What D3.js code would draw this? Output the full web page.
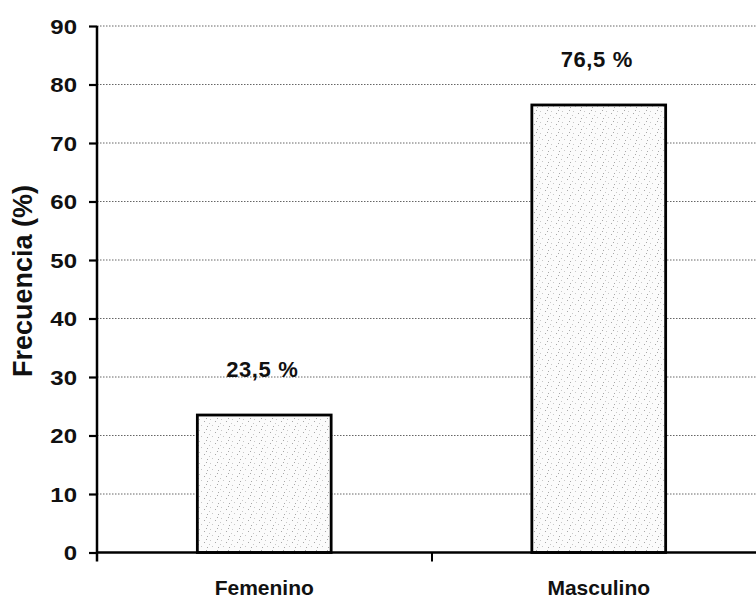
<!DOCTYPE html>
<html>
<head>
<meta charset="utf-8">
<script src="https://cdn.jsdelivr.net/npm/d3@7"></script>
<style>
  html, body { margin: 0; padding: 0; background: #fff; }
  svg { display: block; }
  text { font-family: "Liberation Sans", Arial, sans-serif; font-weight: bold; fill: #111; }
</style>
</head>
<body>
<svg id="chart" width="756" height="599"></svg>
<script>
const categories = ["Femenino", "Masculino"];
const values = [23.5, 76.5];
const valueLabels = ["23,5 %", "76,5 %"];
const yTicks = [0, 10, 20, 30, 40, 50, 60, 70, 80, 90];
const yTitle = "Frecuencia (%)";

const svg = d3.select("#chart");
const mLeft = 97, mRight = 766, mTop = 26, mBottom = 552.5;

const y = d3.scaleLinear().domain([0, 90]).range([mBottom, mTop]);
const x = d3.scaleBand().domain(categories).range([mLeft, mRight]).paddingInner(0.6).paddingOuter(0.3);
const xEdges = d3.scaleLinear().domain([0, categories.length]).range([mLeft, mRight]);

// stipple pattern
const defs = svg.append("defs");
const pat = defs.append("pattern").attr("id", "stip").attr("patternUnits", "userSpaceOnUse")
  .attr("width", 11).attr("height", 11);
pat.append("rect").attr("width", 11).attr("height", 11).attr("fill", "#fbfbfb");
[[1,1],[6,3],[3,7],[9,8],[0,5],[8,0]].forEach(([a,b], i) => {
  pat.append("rect").attr("x", a).attr("y", b).attr("width", 1).attr("height", 1)
    .attr("fill", i % 2 ? "#a8a8a8" : "#c8c8c8");
});

// gridlines
svg.append("g").selectAll("line").data(yTicks.filter(d => d > 0)).join("line")
  .attr("x1", mLeft).attr("x2", 756)
  .attr("y1", d => y(d)).attr("y2", d => y(d))
  .attr("stroke", "#666").attr("stroke-width", 1).attr("stroke-dasharray", "1.5 1.5");

// bars
svg.append("g").selectAll("rect").data(values).join("rect")
  .attr("x", (d, i) => x(categories[i]))
  .attr("width", x.bandwidth())
  .attr("y", d => y(d))
  .attr("height", d => y(0) - y(d))
  .attr("fill", "url(#stip)")
  .attr("stroke", "#000").attr("stroke-width", 2.8);

// value labels
svg.append("g").selectAll("text").data(values).join("text")
  .attr("x", (d, i) => x(categories[i]) + x.bandwidth() / 2 - 2)
  .attr("y", d => y(d) - 38)
  .attr("text-anchor", "middle")
  .style("font-size", "22px")
  .style("letter-spacing", "0.6px")
  .text((d, i) => valueLabels[i]);

// y axis
const yAxis = svg.append("g").attr("transform", `translate(${mLeft},0)`)
  .call(d3.axisLeft(y).tickValues(yTicks).tickSize(8).tickSizeOuter(0));
yAxis.select(".domain").attr("stroke", "#000").attr("stroke-width", 2.5)
  .attr("d", `M0,${mTop}V${mBottom + 9}`);
yAxis.selectAll(".tick line").attr("stroke", "#000").attr("stroke-width", 2.2);
yAxis.selectAll(".tick text")
  .attr("x", 0).attr("dy", "0.35em")
  .attr("transform", "translate(-20,0) scale(1.2,1)")
  .attr("text-anchor", "end")
  .style("font-size", "20px")
  .style("font-family", "'Liberation Sans', Arial, sans-serif");

// x axis (category boundary ticks)
const xAxis = svg.append("g").attr("transform", `translate(0,${mBottom})`)
  .call(d3.axisBottom(xEdges).tickValues([1]).tickSize(9).tickSizeOuter(0).tickFormat(""));
xAxis.select(".domain").attr("stroke", "#000").attr("stroke-width", 2.5)
  .attr("d", `M${mLeft},0H756`);
xAxis.selectAll(".tick line").attr("stroke", "#000").attr("stroke-width", 2);

// category labels
svg.append("g").selectAll("text").data(categories).join("text")
  .attr("x", d => x(d) + x.bandwidth() / 2)
  .attr("y", 595)
  .attr("text-anchor", "middle")
  .style("font-size", "21px")
  .text(d => d);

// y title
svg.append("text")
  .attr("transform", "translate(32,281) rotate(-90)")
  .attr("text-anchor", "middle")
  .style("font-size", "27px")
  .text(yTitle);
</script>
</body>
</html>
